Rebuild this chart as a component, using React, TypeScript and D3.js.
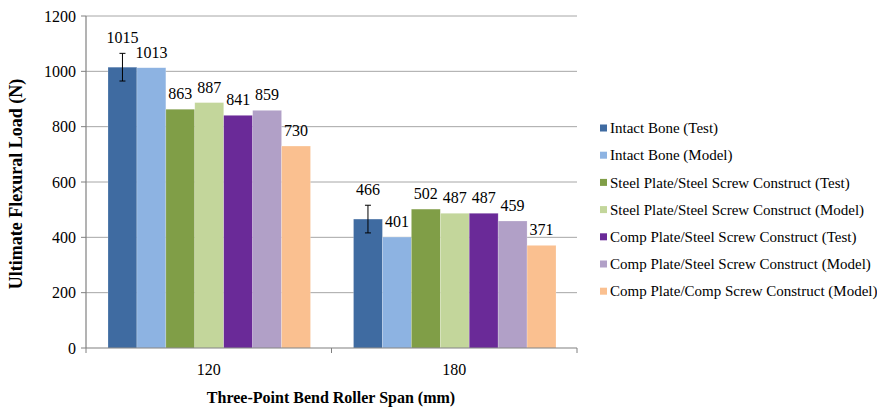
import React from "react";
import * as d3 from "d3";

const categories = ["120", "180"];
const seriesNames = [
  "Intact Bone (Test)",
  "Intact Bone (Model)",
  "Steel Plate/Steel Screw Construct (Test)",
  "Steel Plate/Steel Screw Construct (Model)",
  "Comp Plate/Steel Screw Construct (Test)",
  "Comp Plate/Steel Screw Construct (Model)",
  "Comp Plate/Comp Screw Construct (Model)",
];
const seriesColors = ["#3F6BA1", "#8DB3E2", "#809E47", "#C3D69B", "#6A2A98", "#B1A0C7", "#FAC090"];
// values per series, [120 mm, 180 mm]
const intactTest = [1015, 466];
const intactModel = [1013, 401];
const steelTest = [863, 502];
const steelModel = [887, 487];
const compSteelTest = [841, 487];
const compSteelModel = [859, 459];
const compCompModel = [730, 371];
// error bars (only on the test bars of intact bone)
const intactTestErr = [50, 50];
const yTicks = [0, 200, 400, 600, 800, 1000, 1200];

const seriesValues = [intactTest, intactModel, steelTest, steelModel, compSteelTest, compSteelModel, compCompModel];

const serif = { fontFamily: "Liberation Serif, Times New Roman, DejaVu Serif, serif" };

export default function App() {
  const left = 86;
  const right = 577;
  const top = 16;
  const bottom = 348;

  const y = d3.scaleLinear().domain([0, 1200]).range([bottom, top]);
  const x0 = d3.scaleBand<string>().domain(categories).range([left, right]);
  const bw = x0.bandwidth();
  const x1 = d3.scaleBand<string>().domain(seriesNames).range([22, bw - 21]);

  return (
    <svg width={877} height={408} style={{ position: "absolute", left: 0, top: 0, background: "#fff" }}>
      {/* gridlines */}
      {yTicks.filter((t) => t > 0).map((t) => (
        <line key={t} x1={left} x2={right} y1={y(t)} y2={y(t)} stroke="#A6A6A6" strokeWidth={1} />
      ))}
      {/* bars */}
      {seriesNames.map((s, si) =>
        categories.map((c, ci) => {
          const v = seriesValues[si][ci];
          return (
            <rect
              key={s + c}
              x={(x0(c) as number) + (x1(s) as number)}
              y={y(v)}
              width={x1.bandwidth()}
              height={y(0) - y(v)}
              fill={seriesColors[si]}
              stroke="#ffffff"
              strokeOpacity={0.35}
              strokeWidth={0.6}
            />
          );
        })
      )}
      {/* error bars */}
      {categories.map((c, ci) => {
        const cx = (x0(c) as number) + (x1(seriesNames[0]) as number) + x1.bandwidth() / 2;
        const v = intactTest[ci];
        const e = intactTestErr[ci];
        return (
          <g key={"err" + c} stroke="#000" strokeWidth={1}>
            <line x1={cx} x2={cx} y1={y(v + e)} y2={y(v - e)} />
            <line x1={cx - 3} x2={cx + 3} y1={y(v + e)} y2={y(v + e)} />
            <line x1={cx - 3} x2={cx + 3} y1={y(v - e)} y2={y(v - e)} />
          </g>
        );
      })}
      {/* data labels */}
      {seriesNames.map((s, si) =>
        categories.map((c, ci) => {
          const v = seriesValues[si][ci];
          const top = si === 0 ? v + intactTestErr[ci] : v;
          const cx = (x0(c) as number) + (x1(s) as number) + x1.bandwidth() / 2;
          return (
            <text
              key={"l" + s + c}
              x={cx}
              y={y(top) - 10}
              textAnchor="middle"
              style={serif}
              fontSize={16}
              fill="#000"
            >
              {v}
            </text>
          );
        })
      )}
      {/* y axis */}
      <line x1={left} x2={left} y1={top} y2={bottom} stroke="#808080" strokeWidth={1.2} />
      {yTicks.map((t) => (
        <g key={"yt" + t}>
          <line x1={left - 5} x2={left} y1={y(t)} y2={y(t)} stroke="#808080" strokeWidth={1} />
          <text x={left - 10} y={y(t)} dy="0.35em" textAnchor="end" style={serif} fontSize={16} fill="#000">
            {t}
          </text>
        </g>
      ))}
      {/* x axis */}
      <line x1={left} x2={right} y1={bottom} y2={bottom} stroke="#808080" strokeWidth={1.2} />
      {[left, ...categories.map((c) => (x0(c) as number) + bw)].map((px, i) => (
        <line key={"xt" + i} x1={px} x2={px} y1={bottom} y2={bottom + 5} stroke="#808080" strokeWidth={1} />
      ))}
      {categories.map((c) => (
        <text
          key={"xl" + c}
          x={(x0(c) as number) + bw / 2}
          y={369}
          dy="0.35em"
          textAnchor="middle"
          style={serif}
          fontSize={16}
          fill="#000"
        >
          {c}
        </text>
      ))}
      {/* axis titles */}
      <text x={331} y={397} dy="0.35em" textAnchor="middle" style={serif} fontSize={16} fontWeight="bold" fill="#000">
        Three-Point Bend Roller Span (mm)
      </text>
      <text
        transform="translate(16,184) rotate(-90)"
        dy="0.35em"
        textAnchor="middle"
        style={serif}
        fontSize={18}
        fontWeight="bold"
        fill="#000"
      >
        Ultimate Flexural Load (N)
      </text>
      {/* legend */}
      {seriesNames.map((s, i) => {
        const ly = 128 + i * 27.2;
        return (
          <g key={"lg" + s}>
            <rect x={600} y={ly - 3.5} width={7} height={7} fill={seriesColors[i]} />
            <text x={610} y={ly} dy="0.35em" style={serif} fontSize={15} fill="#000">
              {s}
            </text>
          </g>
        );
      })}
    </svg>
  );
}
